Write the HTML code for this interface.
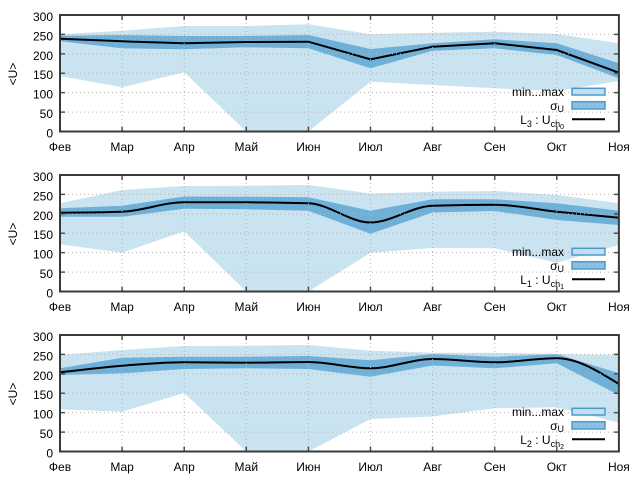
<!DOCTYPE html>
<html><head><meta charset="utf-8"><style>
html,body{margin:0;padding:0;background:#fff;}
svg{display:block;font-family:"Liberation Sans","DejaVu Sans",sans-serif;}
</style></head><body>
<svg width="640" height="480" viewBox="0 0 640 480" xmlns="http://www.w3.org/2000/svg">
<defs>
<clipPath id="c1"><rect x="60" y="15" width="558.9" height="116.5"/></clipPath>
<clipPath id="c2"><rect x="60" y="175" width="558.9" height="116.5"/></clipPath>
<clipPath id="c3"><rect x="60" y="335" width="558.9" height="116.5"/></clipPath>
<g id="axes">
 <g stroke="#b4b4b4" stroke-width="1" stroke-dasharray="1,3">
  <line x1="60" x2="619" y1="34.42" y2="34.42"/>
  <line x1="60" x2="619" y1="53.83" y2="53.83"/>
  <line x1="60" x2="619" y1="73.25" y2="73.25"/>
  <line x1="60" x2="619" y1="92.67" y2="92.67"/>
  <line x1="60" x2="619" y1="112.08" y2="112.08"/>
  <line y1="15" y2="131.5" x1="122.1" x2="122.1"/>
  <line y1="15" y2="131.5" x1="184.2" x2="184.2"/>
  <line y1="15" y2="131.5" x1="246.3" x2="246.3"/>
  <line y1="15" y2="131.5" x1="308.4" x2="308.4"/>
  <line y1="15" y2="131.5" x1="370.5" x2="370.5"/>
  <line y1="15" y2="131.5" x1="432.6" x2="432.6"/>
  <line y1="15" y2="131.5" x1="494.7" x2="494.7"/>
  <line y1="15" y2="131.5" x1="556.8" x2="556.8"/>
 </g>
 <g stroke="#505050" stroke-width="1.5">
  <path d="M122.1,131.5v-5M184.2,131.5v-5M246.3,131.5v-5M308.4,131.5v-5M370.5,131.5v-5M432.6,131.5v-5M494.7,131.5v-5M556.8,131.5v-5"/>
  <path d="M122.1,15v5M184.2,15v5M246.3,15v5M308.4,15v5M370.5,15v5M432.6,15v5M494.7,15v5M556.8,15v5"/>
  <path d="M60,34.42h5M60,53.83h5M60,73.25h5M60,92.67h5M60,112.08h5"/>
  <path d="M618.9,34.42h-5M618.9,53.83h-5M618.9,73.25h-5M618.9,92.67h-5M618.9,112.08h-5"/>
 </g>
 <rect x="60" y="15" width="558.9" height="116.5" fill="none" stroke="#3a3a3a" stroke-width="2"/>
</g>
</defs>

<!-- ================= PANEL 1 ================= -->
<g clip-path="url(#c1)">
 <polygon fill="#c9e3f0" points="60,34.3 122.1,30.7 184.2,26 246.3,26 308.4,24.3 370.5,34.3 432.6,32.7 494.7,31.7 556.8,34 618.9,43.3 618.9,81 556.8,91 494.7,88.3 432.6,85 370.5,81.7 308.4,131.5 246.3,131.5 184.2,72.3 122.1,87.3 60,76"/>
 <polygon fill="#6eb0d8" points="60,35.7 122.1,35 184.2,36 246.3,36 308.4,35 370.5,49 432.6,43.3 494.7,39.3 556.8,43.3 618.9,63.3 618.9,78.3 556.8,55 494.7,48.3 432.6,50.7 370.5,68.3 308.4,48.3 246.3,47.3 184.2,49.3 122.1,48.3 60,41.3"/>
 <polyline fill="none" stroke="#000" stroke-width="2" points="60,38.7 122.1,41.3 184.2,43.3 246.3,42 308.4,41.7 370.5,59.3 432.6,46.7 494.7,43.3 556.8,50 618.9,72.7"/>
</g>
<use href="#axes"/>

<!-- ================= PANEL 2 ================= -->
<g clip-path="url(#c2)">
 <polygon fill="#c9e3f0" points="60,203.3 122.1,190 184.2,186 246.3,185.7 308.4,185 370.5,193.5 432.6,191.7 494.7,191 556.8,195 618.9,203.3 618.9,245 556.8,262.7 494.7,248.3 432.6,248 370.5,252.8 308.4,291.5 246.3,291.5 184.2,231.3 122.1,252.7 60,244.3"/>
 <polygon fill="#6eb0d8" points="60,208.3 122.1,205.7 184.2,196.5 246.3,196.7 308.4,197.3 370.5,210.7 432.6,199.3 494.7,199.3 556.8,203.3 618.9,210.7 618.9,225 556.8,220 494.7,211 432.6,212.5 370.5,233.7 308.4,210.7 246.3,209.3 184.2,208.7 122.1,216.7 60,216.7"/>
 <path fill="none" stroke="#000" stroke-width="2" d="M60,212.7 C80.7,212.53 101.4,212.37 122.1,211.7 C142.8,211.03 163.5,202.2 184.2,202.2 C204.9,202.2 225.6,202.23 246.3,202.3 C267,202.37 287.7,202.63 308.4,203.3 C329.1,203.97 349.8,222.5 370.5,222.5 C391.2,222.5 411.9,206.37 432.6,205.7 C453.3,205.03 474,204.7 494.7,204.7 C515.4,204.7 536.1,209.53 556.8,211.7 C577.5,213.87 598.2,215.78 618.9,217.7"/>
</g>
<use href="#axes" transform="translate(0,160)"/>

<!-- ================= PANEL 3 ================= -->
<g clip-path="url(#c3)">
 <polygon fill="#c9e3f0" points="60,355 122.1,350 184.2,346 246.3,345.7 308.4,345 370.5,350.7 432.6,352.7 494.7,352.7 556.8,354 618.9,355 618.9,422.7 556.8,407.3 494.7,408.3 432.6,416.5 370.5,419 308.4,451.5 246.3,451.5 184.2,393 122.1,411.7 60,409.3"/>
 <polygon fill="#6eb0d8" points="60,368.3 122.1,357.7 184.2,356.7 246.3,356.7 308.4,356 370.5,360.3 432.6,354 494.7,356.7 556.8,354 618.9,373.3 618.9,395 556.8,363.3 494.7,368.3 432.6,365.5 370.5,376.7 308.4,369 246.3,368.3 184.2,369 122.1,373.3 60,375"/>
 <path fill="none" stroke="#000" stroke-width="2" d="M60,372.3 C80.7,369.84 101.4,367.38 122.1,365.7 C142.8,364.02 163.5,362.2 184.2,362.2 C204.9,362.2 225.6,362.7 246.3,362.7 C267,362.7 287.7,362 308.4,362 C329.1,362 349.8,368.3 370.5,368.3 C391.2,368.3 411.9,359 432.6,359 C453.3,359 474,362.3 494.7,362.3 C515.4,362.3 536.1,358.3 556.8,358.3 C577.5,358.3 598.2,371.15 618.9,384"/>
</g>
<use href="#axes" transform="translate(0,320)"/>

<!-- ================= TEXT: Panel 1 ================= -->
<g font-size="12" fill="#000">
 <g text-anchor="end">
  <text x="53" y="21">300</text><text x="53" y="40.4">250</text><text x="53" y="59.8">200</text><text x="53" y="79.2">150</text><text x="53" y="98.7">100</text><text x="53" y="118.1">50</text><text x="53" y="137.5">0</text>
 </g>
 <g text-anchor="middle">
  <text x="60" y="151">Фев</text><text x="122.1" y="151">Мар</text><text x="184.2" y="151">Апр</text><text x="246.3" y="151">Май</text><text x="308.4" y="151">Июн</text><text x="370.5" y="151">Июл</text><text x="432.6" y="151">Авг</text><text x="494.7" y="151">Сен</text><text x="556.8" y="151">Окт</text><text x="618.9" y="151">Ноя</text>
 </g>
 <text transform="translate(17,74) rotate(-90)" text-anchor="middle">&lt;U&gt;</text>
 <text x="564" y="96" text-anchor="end">min...max</text>
 <text x="564" y="110" text-anchor="end">σ<tspan font-size="9" dy="2">U</tspan></text>
 <text x="564" y="124" text-anchor="end">L<tspan font-size="9" dy="3">3</tspan><tspan dy="-3"> : U</tspan><tspan font-size="9" dy="3">ch</tspan><tspan font-size="7" dy="2">0</tspan></text>
</g>
<g stroke="#4a9acf" stroke-width="1.5">
 <rect x="572" y="88.3" width="33" height="6.7" fill="#c2deef"/>
 <rect x="572" y="101.7" width="33" height="7.3" fill="#8cc0e2"/>
</g>
<line x1="572" x2="605" y1="119.3" y2="119.3" stroke="#000" stroke-width="2"/>

<!-- ================= TEXT: Panel 2 ================= -->
<g font-size="12" fill="#000">
 <g text-anchor="end">
  <text x="53" y="181">300</text><text x="53" y="200.4">250</text><text x="53" y="219.8">200</text><text x="53" y="239.2">150</text><text x="53" y="258.7">100</text><text x="53" y="278.1">50</text><text x="53" y="297.5">0</text>
 </g>
 <g text-anchor="middle">
  <text x="60" y="311">Фев</text><text x="122.1" y="311">Мар</text><text x="184.2" y="311">Апр</text><text x="246.3" y="311">Май</text><text x="308.4" y="311">Июн</text><text x="370.5" y="311">Июл</text><text x="432.6" y="311">Авг</text><text x="494.7" y="311">Сен</text><text x="556.8" y="311">Окт</text><text x="618.9" y="311">Ноя</text>
 </g>
 <text transform="translate(17,234) rotate(-90)" text-anchor="middle">&lt;U&gt;</text>
 <text x="564" y="256" text-anchor="end">min...max</text>
 <text x="564" y="270" text-anchor="end">σ<tspan font-size="9" dy="2">U</tspan></text>
 <text x="564" y="284" text-anchor="end">L<tspan font-size="9" dy="3">1</tspan><tspan dy="-3"> : U</tspan><tspan font-size="9" dy="3">ch</tspan><tspan font-size="7" dy="2">1</tspan></text>
</g>
<g stroke="#4a9acf" stroke-width="1.5">
 <rect x="572" y="248.3" width="33" height="6.7" fill="#c2deef"/>
 <rect x="572" y="261.7" width="33" height="7.3" fill="#8cc0e2"/>
</g>
<line x1="572" x2="605" y1="279.3" y2="279.3" stroke="#000" stroke-width="2"/>

<!-- ================= TEXT: Panel 3 ================= -->
<g font-size="12" fill="#000">
 <g text-anchor="end">
  <text x="53" y="341">300</text><text x="53" y="360.4">250</text><text x="53" y="379.8">200</text><text x="53" y="399.2">150</text><text x="53" y="418.7">100</text><text x="53" y="438.1">50</text><text x="53" y="457.5">0</text>
 </g>
 <g text-anchor="middle">
  <text x="60" y="471">Фев</text><text x="122.1" y="471">Мар</text><text x="184.2" y="471">Апр</text><text x="246.3" y="471">Май</text><text x="308.4" y="471">Июн</text><text x="370.5" y="471">Июл</text><text x="432.6" y="471">Авг</text><text x="494.7" y="471">Сен</text><text x="556.8" y="471">Окт</text><text x="618.9" y="471">Ноя</text>
 </g>
 <text transform="translate(17,394) rotate(-90)" text-anchor="middle">&lt;U&gt;</text>
 <text x="564" y="416" text-anchor="end">min...max</text>
 <text x="564" y="430" text-anchor="end">σ<tspan font-size="9" dy="2">U</tspan></text>
 <text x="564" y="444" text-anchor="end">L<tspan font-size="9" dy="3">2</tspan><tspan dy="-3"> : U</tspan><tspan font-size="9" dy="3">ch</tspan><tspan font-size="7" dy="2">2</tspan></text>
</g>
<g stroke="#4a9acf" stroke-width="1.5">
 <rect x="572" y="408.3" width="33" height="6.7" fill="#c2deef"/>
 <rect x="572" y="421.7" width="33" height="7.3" fill="#8cc0e2"/>
</g>
<line x1="572" x2="605" y1="439.3" y2="439.3" stroke="#000" stroke-width="2"/>
</svg>
</body></html>
